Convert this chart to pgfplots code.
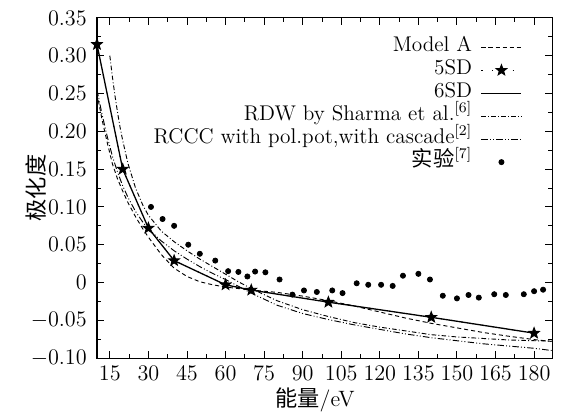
\documentclass[border=0pt]{standalone}
\usepackage{fontspec}
\usepackage{pgfplots}
\pgfplotsset{compat=1.18}
\newfontfamily\cjk{Noto Sans CJK SC}
\pgfdeclareplotmark{fstar}{%
  \pgfpathmoveto{\pgfpointpolar{90}{\pgfplotmarksize}}%
  \pgfpathlineto{\pgfpointpolar{126}{0.42\pgfplotmarksize}}%
  \pgfpathlineto{\pgfpointpolar{162}{\pgfplotmarksize}}%
  \pgfpathlineto{\pgfpointpolar{198}{0.42\pgfplotmarksize}}%
  \pgfpathlineto{\pgfpointpolar{234}{\pgfplotmarksize}}%
  \pgfpathlineto{\pgfpointpolar{270}{0.42\pgfplotmarksize}}%
  \pgfpathlineto{\pgfpointpolar{306}{\pgfplotmarksize}}%
  \pgfpathlineto{\pgfpointpolar{342}{0.42\pgfplotmarksize}}%
  \pgfpathlineto{\pgfpointpolar{18}{\pgfplotmarksize}}%
  \pgfpathlineto{\pgfpointpolar{54}{0.42\pgfplotmarksize}}%
  \pgfpathclose
  \pgfusepathqfillstroke}
\begin{document}
\begin{tikzpicture}[font=\fontsize{12}{14}\selectfont]
\begin{axis}[name=ax,
  width=245.9pt, height=183.8pt, scale only axis,
  xmin=10, xmax=187, ymin=-0.10, ymax=0.35,
  xtick={15,30,...,180}, minor x tick num=1,
  ytick={-0.10,-0.05,0,0.05,0.10,0.15,0.20,0.25,0.30,0.35},
  yticklabels={$-0.10$,$-0.05$,$0$,$0.05$,$0.10$,$0.15$,$0.20$,$0.25$,$0.30$,$0.35$},
  minor y tick num=1,
  tick align=inside, major tick length=4pt, minor tick length=2.2pt,
  axis line style={line width=0.6pt}, tick style={line width=0.5pt,black},
  tick label style={font=\fontsize{12}{14}\selectfont},
  label style={font=\fontsize{12}{14}\selectfont},
  yticklabel style={xshift=-2pt},
  xticklabel style={yshift=-1pt},
  xlabel={{\cjk 能量}/eV},
  ylabel={\cjk 极化度},
  xlabel style={at={(rel axis cs:0.479,0)}, anchor=center, yshift=-22.5pt},
  ylabel style={at={(rel axis cs:0,0.5)}, anchor=center, yshift=33pt},
  legend plot pos=right, legend cell align=right,
  legend image code/.code={\draw[mark repeat=2,mark phase=2,#1] plot coordinates {(0cm,0cm) (0.38cm,0cm) (0.76cm,0cm)};},
  legend style={draw=none, fill=none, inner sep=0pt, at={(rel axis cs:1,1)}, anchor=north east, xshift=-16pt, yshift=-9.5pt,
    font=\fontsize{11.5}{13.5}\selectfont, /tikz/column sep=3pt,
    nodes={inner sep=1.7pt, text height=7pt, text depth=2pt}},
]
\addplot[black, line width=0.5pt, dash pattern=on 2.2pt off 1.6pt] coordinates {
(10,0.250)(12,0.215)(14,0.185)(16,0.157)(18,0.137)(20,0.121)(22,0.106)(25,0.087)(28,0.070)(30,0.060)(35,0.037)(40,0.019)(45,0.008)(50,0.001)(55,-0.003)(60,-0.006)(70,-0.010)(80,-0.013)(90,-0.018)(100,-0.024)(110,-0.031)(120,-0.039)(130,-0.047)(140,-0.054)(150,-0.060)(160,-0.066)(170,-0.071)(180,-0.0755)(187,-0.078)};
\addlegendentry{Model A}
\addplot[black, line width=0.5pt, dash pattern=on 0.6pt off 5pt, mark=fstar, mark size=3pt, mark options={solid}] coordinates {
(10,0.315)(20,0.150)(30,0.072)(40,0.029)(60,-0.003)(70,-0.010)(100,-0.026)(140,-0.046)(180,-0.067)};
\addlegendentry{5SD}
\addplot[black, line width=0.7pt] coordinates {
(10,0.315)(20,0.150)(30,0.072)(40,0.029)(60,-0.003)(70,-0.010)(100,-0.026)(140,-0.046)(180,-0.067)};
\addlegendentry{6SD}
\addplot[black, line width=0.5pt, dash pattern=on 2.5pt off 1.2pt on 0.5pt off 1.2pt] coordinates {
(15,0.300)(16,0.272)(17,0.247)(18,0.225)(19,0.205)(20,0.188)(22,0.158)(25,0.125)(28,0.101)(30,0.089)(35,0.068)(40,0.054)(45,0.042)(50,0.031)(55,0.021)(60,0.011)(65,0.001)(70,-0.008)(75,-0.016)(80,-0.024)(90,-0.036)(100,-0.045)(110,-0.053)(120,-0.059)(130,-0.064)(140,-0.069)(150,-0.072)(160,-0.074)(170,-0.076)(180,-0.077)(187,-0.0775)};
\addlegendentry{RDW by Sharma et al.$^{[6]}$}
\addplot[black, line width=0.5pt, dash pattern=on 3.5pt off 1.2pt on 0.5pt off 1.2pt on 0.5pt off 1.2pt] coordinates {
(10,0.255)(12,0.222)(14,0.193)(16,0.167)(18,0.146)(20,0.128)(22,0.113)(25,0.094)(28,0.079)(30,0.071)(35,0.055)(40,0.042)(45,0.031)(50,0.021)(55,0.012)(60,0.004)(65,-0.005)(70,-0.014)(75,-0.022)(80,-0.030)(90,-0.041)(100,-0.049)(110,-0.056)(120,-0.062)(130,-0.068)(140,-0.073)(150,-0.077)(160,-0.081)(170,-0.084)(180,-0.087)(187,-0.090)};
\addlegendentry{RCCC with pol.pot,with cascade$^{[2]}$}
\addplot[black, only marks, mark=*, mark size=1.4pt] coordinates {
(31,0.100)(35.5,0.084)(40,0.075)(45.5,0.050)(50,0.038)(56,0.029)(61,0.015)(65,0.014)(68.5,0.008)(71.5,0.0145)(75.5,0.0135)(81,0.004)(86,-0.016)(90.5,-0.0105)(95.5,-0.0125)(101.5,-0.0105)(105.5,-0.014)(111,-0.001)(115.5,-0.003)(120.5,-0.003)(125,-0.0045)(129,0.009)(135,0.0115)(139.5,0.004)(144.5,-0.0175)(150,-0.021)(154.5,-0.0165)(158.5,-0.020)(164.5,-0.0155)(169,-0.0165)(176,-0.0155)(180,-0.0115)(183.5,-0.0095)};
\addlegendentry{{\cjk 实验}$^{[7]}$}
\end{axis}
\pgfresetboundingbox
\useasboundingbox ([xshift=-52.4pt,yshift=-31.4pt]ax.south west) rectangle ([xshift=5.9pt,yshift=9.7pt]ax.north east);
\end{tikzpicture}
\end{document}
